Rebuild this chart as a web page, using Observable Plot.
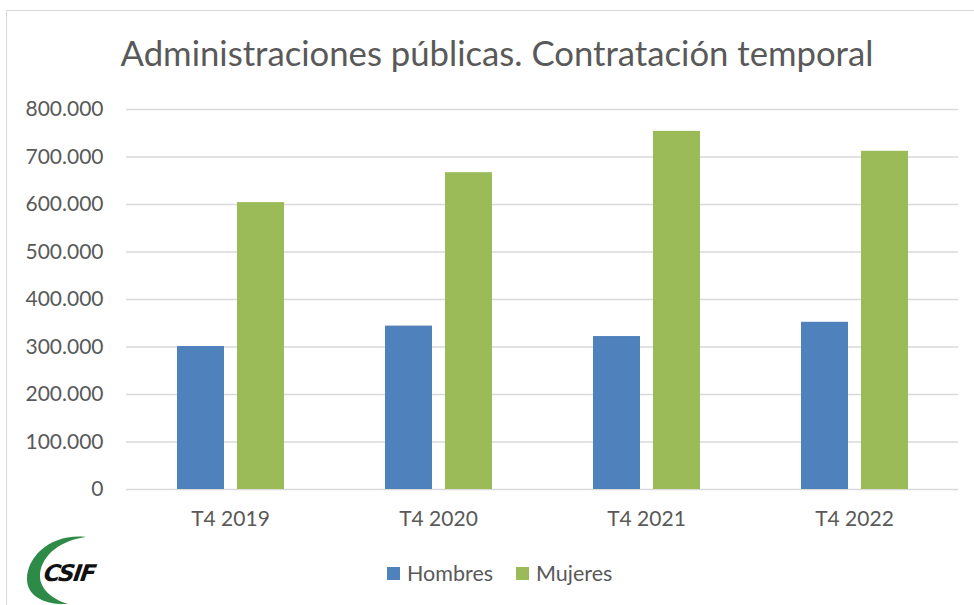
<!DOCTYPE html>
<html>
<head>
<meta charset="utf-8">
<script src="https://cdn.jsdelivr.net/npm/d3@7"></script>
<script src="https://cdn.jsdelivr.net/npm/@observablehq/plot@0.6"></script>
<style>
  html, body { margin: 0; padding: 0; background: #fff; }
  body { width: 974px; height: 605px; position: relative; overflow: hidden; font-family: Lato, "Open Sans", sans-serif; color: #595959; }
  #frame { position: absolute; left: 6px; top: 10px; width: 990px; height: 620px; border: 1.5px solid #d9d9d9; box-sizing: border-box; }
  #title { position: absolute; left: 0; width: 994px; top: 30px; text-align: center; font-size: 34.7px; line-height: 46px; color: #595959; white-space: nowrap; }
  #chart { position: absolute; left: 0; top: 85px; }
  #legend { position: absolute; top: 560px; left: 387px; font-size: 21.5px; line-height: 26px; display: flex; align-items: center; color: #595959; }
  #legend .sw { display: inline-block; width: 13px; height: 13px; margin-right: 7px; }
  #legend .item { display: flex; align-items: center; margin-right: 23px; }
  #logo { position: absolute; left: 20px; top: 528px; }
</style>
</head>
<body>
<div id="frame"></div>
<div id="title">Administraciones públicas. Contratación temporal</div>
<div id="chart"></div>
<div id="legend"></div>
<svg id="logo" width="90" height="80" viewBox="20 528 90 80">
  <path d="M86,537 C52,533 27,556 27,579 C27,596 44,605 68,604 C52,599 39,589 40,574 C42,554 62,540 86,537 Z" fill="#2e8b47"/>
  <text x="68" y="581" text-anchor="middle" font-family="'DejaVu Sans', sans-serif" font-weight="bold" font-style="italic" font-size="23" fill="#111" letter-spacing="-1.5" transform="skewX(-8) translate(82,0)">CSIF</text>
</svg>
<script>
const categories = ["T4 2019", "T4 2020", "T4 2021", "T4 2022"];
const seriesNames = ["Hombres", "Mujeres"];
const hombres = [301000, 344000, 322000, 352000];
const mujeres = [604000, 667000, 754000, 712000];
const yTicks = [0, 100000, 200000, 300000, 400000, 500000, 600000, 700000, 800000];
const colors = ["#4f81bd", "#9bbb59"];

const data = categories.flatMap((c, i) => [
  {cat: c, serie: seriesNames[0], value: hombres[i]},
  {cat: c, serie: seriesNames[1], value: mujeres[i]}
]);

const fmt = d3.formatLocale({decimal: ",", thousands: ".", grouping: [3], currency: ["", "€"]}).format(",d");

const chart = Plot.plot({
  width: 974,
  height: 460,
  marginTop: 24,
  marginBottom: 56,
  marginLeft: 125,
  marginRight: 16,
  style: {fontFamily: "Lato, 'Open Sans', sans-serif", color: "#595959", background: "transparent"},
  fx: {domain: categories, padding: 0, label: null, axis: null},
  x: {domain: seriesNames, paddingInner: 0.217, paddingOuter: 0.84, axis: null},
  y: {domain: [0, 800000], label: null, axis: null},
  color: {domain: seriesNames, range: colors},
  marks: [
    Plot.gridY(yTicks, {stroke: "#d9d9d9", strokeOpacity: 1, strokeWidth: 1.5}),
    Plot.barY(data, {fx: "cat", x: "serie", y: "value", fill: "serie"}),
    Plot.axisY(yTicks, {tickSize: 0, tickPadding: 23, fontSize: 21, tickFormat: fmt, label: null, fill: "#595959"}),
    Plot.axisFx({anchor: "bottom", tickSize: 0, tickPadding: 22, fontSize: 21, label: null, fill: "#595959"})
  ]
});
document.getElementById("chart").appendChild(chart);

const legend = document.getElementById("legend");
seriesNames.forEach((s, i) => {
  const item = document.createElement("div");
  item.className = "item";
  const sw = document.createElement("span");
  sw.className = "sw";
  sw.style.background = colors[i];
  item.appendChild(sw);
  item.appendChild(document.createTextNode(s));
  legend.appendChild(item);
});
</script>
</body>
</html>
